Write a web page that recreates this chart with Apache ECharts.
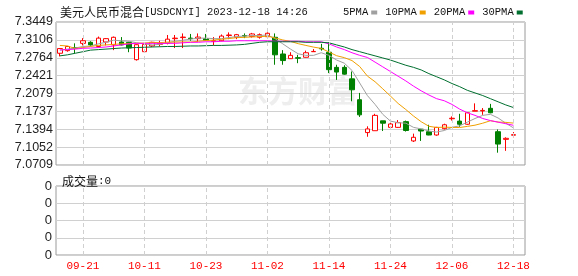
<!DOCTYPE html>
<html>
<head>
<meta charset="utf-8">
<script src="https://cdn.jsdelivr.net/npm/echarts@6/dist/echarts.min.js"></script>
<style>html,body{margin:0;padding:0;background:#fff}#c{width:578px;height:276px}</style>
</head>
<body>
<div id="c"></div>
<script>
const categories = ['09-18','09-19','09-20','09-21','09-22','09-25','09-26','09-27','09-28','10-09',
  '10-10','10-11','10-12','10-13','10-16','10-17','10-18','10-19','10-20','10-23',
  '10-24','10-25','10-26','10-27','10-30','10-31','11-01','11-02','11-03','11-06',
  '11-07','11-08','11-09','11-10','11-13','11-14','11-15','11-16','11-17','11-20',
  '11-21','11-22','11-23','11-24','11-27','11-28','11-29','11-30','12-01','12-04',
  '12-05','12-06','12-07','12-08','12-11','12-12','12-13','12-14','12-15','12-18'];
const xTickLabels = ['09-21','10-11','10-23','11-02','11-14','11-24','12-06','12-18'];
const yTickLabels = ['7.0709','7.1052','7.1394','7.1737','7.2079','7.2421','7.2764','7.3106','7.3449'];
const volTickLabels = ['0','0','0','0','0'];

const openVals = [7.285,7.290,7.2955,7.304,7.306,7.298,7.3066,7.301,7.3066,7.306,
  7.2727,7.288,7.299,7.302,7.304,7.313,7.315,7.314,7.313,7.313,
  7.308,7.309,7.319,7.3156,7.319,7.317,7.3156,7.3167,7.3156,7.2836,
  7.2746,7.2765,7.2773,7.288,7.2945,7.287,7.258,7.258,7.236,7.196,
  7.133,7.1366,7.1555,7.143,7.143,7.154,7.117,7.1395,7.1347,7.1284,
  7.1405,7.1595,7.155,7.149,7.174,7.1745,7.1795,7.1347,7.120,7.128];
const closeVals = [7.294,7.298,7.2945,7.309,7.301,7.314,7.313,7.3156,7.301,7.295,
  7.3014,7.302,7.306,7.304,7.312,7.314,7.316,7.313,7.316,7.310,
  7.309,7.318,7.320,7.3206,7.318,7.322,7.3206,7.3233,7.282,7.271,
  7.281,7.2755,7.286,7.2885,7.2935,7.2535,7.249,7.245,7.215,7.167,
  7.140,7.166,7.151,7.1495,7.152,7.137,7.124,7.136,7.1284,7.143,
  7.148,7.1605,7.149,7.171,7.175,7.1755,7.171,7.111,7.122,7.129];
const lowVals = [7.279,7.288,7.285,7.300,7.298,7.296,7.300,7.291,7.300,7.287,
  7.271,7.287,7.297,7.298,7.302,7.295,7.295,7.309,7.307,7.309,
  7.300,7.308,7.312,7.312,7.314,7.315,7.313,7.315,7.263,7.263,
  7.274,7.266,7.277,7.2875,7.290,7.247,7.234,7.244,7.193,7.163,
  7.125,7.1366,7.136,7.142,7.142,7.135,7.115,7.117,7.128,7.127,
  7.139,7.156,7.144,7.148,7.174,7.167,7.170,7.0945,7.098,7.124];
const highVals = [7.295,7.299,7.304,7.314,7.308,7.317,7.314,7.317,7.316,7.307,
  7.302,7.304,7.307,7.309,7.320,7.320,7.323,7.322,7.323,7.322,
  7.316,7.321,7.325,7.322,7.323,7.324,7.323,7.325,7.323,7.291,
  7.287,7.282,7.290,7.293,7.303,7.306,7.263,7.262,7.250,7.209,
  7.145,7.169,7.1555,7.154,7.157,7.156,7.131,7.140,7.148,7.144,
  7.150,7.164,7.169,7.172,7.189,7.180,7.188,7.139,7.124,7.134];

const ma5 = [7.291,7.293,7.295,7.298,7.299,7.303,7.306,7.310,7.309,7.308,
  7.305,7.303,7.301,7.302,7.305,7.308,7.310,7.312,7.314,7.314,
  7.313,7.313,7.315,7.317,7.318,7.319,7.319,7.320,7.313,7.303,
  7.293,7.284,7.281,7.281,7.286,7.281,7.272,7.266,7.252,7.228,
  7.204,7.187,7.168,7.155,7.152,7.151,7.143,7.140,7.136,7.134,
  7.137,7.143,7.146,7.153,7.160,7.166,7.168,7.161,7.151,7.142];
const ma10 = [7.300,7.299,7.294,7.296,7.298,7.300,7.301,7.302,7.303,7.3035,
  7.3042,7.3046,7.3058,7.3053,7.3064,7.3064,7.3067,7.3064,7.3079,7.3094,
  7.3102,7.3118,7.3132,7.3149,7.3155,7.3163,7.3167,7.3178,7.3144,7.3105,
  7.3077,7.3034,7.300,7.2968,7.2943,7.2875,7.2803,7.2766,7.271,7.2596,
  7.2413,7.2304,7.2169,7.203,7.1888,7.1772,7.1647,7.1538,7.1451,7.1427,
  7.1435,7.1429,7.1427,7.1449,7.1472,7.151,7.1557,7.1532,7.1526,7.1512];
const ma20 = [7.2913,7.292,7.293,7.2945,7.295,7.296,7.297,7.299,7.301,7.303,
  7.304,7.304,7.304,7.304,7.304,7.304,7.305,7.306,7.306,7.307,
  7.307,7.308,7.308,7.309,7.309,7.309,7.309,7.309,7.308,7.308,
  7.308,7.308,7.307,7.307,7.307,7.303,7.297,7.292,7.286,7.281,
  7.277,7.268,7.259,7.250,7.241,7.232,7.222,7.213,7.205,7.198,
  7.194,7.187,7.178,7.171,7.166,7.160,7.156,7.153,7.150,7.147];
const ma30 = [7.280,7.282,7.285,7.288,7.291,7.292,7.293,7.294,7.295,7.2955,
  7.296,7.2965,7.297,7.2975,7.298,7.298,7.2985,7.299,7.299,7.2995,
  7.300,7.300,7.3005,7.301,7.302,7.304,7.306,7.307,7.307,7.307,
  7.307,7.307,7.306,7.306,7.306,7.305,7.301,7.297,7.292,7.288,
  7.284,7.280,7.276,7.272,7.267,7.262,7.258,7.253,7.246,7.240,
  7.234,7.227,7.221,7.214,7.209,7.204,7.198,7.192,7.186,7.181];

const candleData = categories.map((_, i) => [openVals[i], closeVals[i], lowVals[i], highVals[i]]);

const chart = echarts.init(document.getElementById('c'), null, {renderer: 'canvas'});
const gridL = 56, gridR = 53;
const monoFont = '"Liberation Mono","DejaVu Sans Mono",monospace';
const cjkFont = '"Noto Sans CJK SC"';
const vLineStyle = {color: '#d0d0d0', type: [4, 3], width: 1};
const showTick = (idx, val) => xTickLabels.indexOf(val) >= 0;

function vLines(xi, yi) {
  return {
    type: 'line', xAxisIndex: xi, yAxisIndex: yi, data: [], z: 1, silent: true,
    markLine: {
      silent: true, symbol: ['none', 'none'], label: {show: false},
      lineStyle: vLineStyle, animation: false,
      data: xTickLabels.map(d => ({xAxis: d}))
    }
  };
}

const yMin = 7.0709, yMax = 7.3449;

chart.setOption({
  animation: false,
  backgroundColor: '#fff',
  title: [{
    left: 55, top: 1,
    text: '{c|美元人民币混合}{l|[USDCNYI] 2023-12-18 14:26}',
    textStyle: {
      fontWeight: 'normal',
      rich: {
        c: {fontFamily: cjkFont, fontSize: 12, fontWeight: 'normal', color: '#111'},
        l: {fontFamily: monoFont, fontSize: 10.5, fontWeight: 'normal', color: '#111'}
      }
    }
  }, {
    left: 57, top: 170,
    text: '{c|成交量}{l|:0}',
    textStyle: {
      fontWeight: 'normal',
      rich: {
        c: {fontFamily: cjkFont, fontSize: 12, fontWeight: 'normal', color: '#111'},
        l: {fontFamily: monoFont, fontSize: 11, fontWeight: 'normal', color: '#111'}
      }
    }
  }],
  legend: {
    left: 338, top: 2, align: 'right', icon: 'rect', itemWidth: 6, itemHeight: 4, itemGap: 8,
    textStyle: {fontFamily: monoFont, fontSize: 10.5, color: '#111', padding: [0, -2, 0, 0]},
    data: ['5PMA', '10PMA', '20PMA', '30PMA']
  },
  graphic: [{
    type: 'text', left: 238, top: 76, z: 0, silent: true,
    style: {text: '东方财富', font: 'bold 30px "Noto Sans CJK SC"', fill: '#eeeeee'}
  }],
  grid: [
    {left: gridL, right: gridR, top: 22, height: 143, show: true, borderColor: '#9a9a9a', borderWidth: 1, backgroundColor: 'transparent'},
    {left: gridL, right: gridR, top: 186, height: 69, show: true, borderColor: '#9a9a9a', borderWidth: 1, backgroundColor: 'transparent'}
  ],
  xAxis: [{
    type: 'category', gridIndex: 0, data: categories, max: categories.length, boundaryGap: true,
    axisLine: {show: false}, axisTick: {show: false}, axisLabel: {show: false}, splitLine: {show: false}
  }, {
    type: 'category', gridIndex: 1, data: categories, max: categories.length, boundaryGap: true,
    axisLine: {show: false}, axisTick: {show: false}, splitLine: {show: false},
    axisLabel: {show: true, interval: showTick, color: '#ff0000', fontFamily: monoFont, fontSize: 11, margin: 6}
  }],
  yAxis: [{
    type: 'value', gridIndex: 0, min: yMin, max: yMax, interval: (yMax - yMin) / 8,
    axisLine: {show: false}, axisTick: {show: false},
    splitLine: {show: true, lineStyle: {color: '#d0d0d0', width: 1}},
    axisLabel: {
      show: true, margin: 3, color: '#222', fontFamily: '"Liberation Sans",Arial,sans-serif', fontSize: 12.5,
      showMinLabel: true, showMaxLabel: true,
      formatter: (v, i) => yTickLabels[i] !== undefined ? yTickLabels[i] : ''
    }
  }, {
    type: 'value', gridIndex: 1, min: 0, max: 4, interval: 1,
    axisLine: {show: false}, axisTick: {show: false},
    splitLine: {show: true, lineStyle: {color: '#d0d0d0', width: 1}},
    axisLabel: {
      show: true, margin: 4, color: '#222', fontFamily: '"Liberation Sans",Arial,sans-serif', fontSize: 13,
      showMinLabel: true, showMaxLabel: true,
      formatter: (v, i) => volTickLabels[i] !== undefined ? volTickLabels[i] : ''
    }
  }],
  series: [
    vLines(0, 0),
    vLines(1, 1),
    {
      type: 'candlestick', xAxisIndex: 0, yAxisIndex: 0, data: candleData, barWidth: 5, z: 3,
      itemStyle: {color: '#ffffff', color0: '#008000', borderColor: '#ff0000', borderColor0: '#008000', borderWidth: 1}
    },
    {name: '5PMA', type: 'line', data: ma5, symbol: 'none', z: 4, lineStyle: {color: '#a0a0a0', width: 1}, itemStyle: {color: '#a0a0a0'}},
    {name: '10PMA', type: 'line', data: ma10, symbol: 'none', z: 4, lineStyle: {color: '#f0a000', width: 1}, itemStyle: {color: '#f0a000'}},
    {name: '20PMA', type: 'line', data: ma20, symbol: 'none', z: 4, lineStyle: {color: '#ff00ff', width: 1}, itemStyle: {color: '#ff00ff'}},
    {name: '30PMA', type: 'line', data: ma30, symbol: 'none', z: 4, lineStyle: {color: '#006f2f', width: 1}, itemStyle: {color: '#006f2f'}}
  ]
});
</script>
</body>
</html>
